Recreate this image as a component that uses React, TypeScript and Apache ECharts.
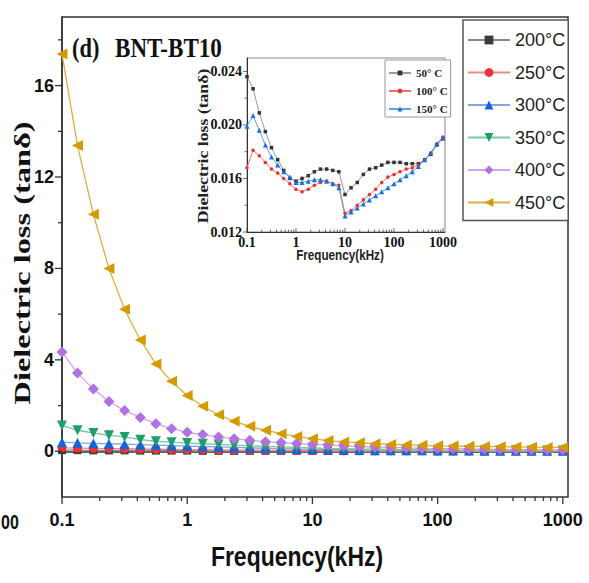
import React, { useEffect, useRef } from "react";
import * as echarts from "echarts";

// Frequencies (kHz), 8 points per decade
const freqKHz = [
  0.1, 0.133, 0.178, 0.237, 0.316, 0.422, 0.562, 0.75,
  1, 1.33, 1.78, 2.37, 3.16, 4.22, 5.62, 7.5,
  10, 13.3, 17.8, 23.7, 31.6, 42.2, 56.2, 75,
  100, 133, 178, 237, 316, 422, 562, 750, 1000,
];

const tempNames = ["200°C", "250°C", "300°C", "350°C", "400°C", "450°C"];

const loss200 = [0.05, 0.05, 0.04, 0.04, 0.04, 0.03, 0.03, 0.03, 0.03, 0.02, 0.02, 0.02, 0.02, 0.02, 0.02, 0.02, 0.02, 0.01, 0.01, 0.01, 0.01, 0.01, 0.01, 0.01, 0.01, 0.01, 0.01, 0.01, 0.01, 0.01, 0.01, 0.01, 0.01];
const loss250 = [0.15, 0.14, 0.13, 0.12, 0.11, 0.1, 0.09, 0.08, 0.07, 0.07, 0.06, 0.05, 0.05, 0.04, 0.04, 0.03, 0.03, 0.03, 0.02, 0.02, 0.02, 0.02, 0.02, 0.02, 0.01, 0.01, 0.01, 0.01, 0.01, 0.01, 0.01, 0.01, 0.01];
const loss300 = [0.4, 0.37, 0.35, 0.33, 0.31, 0.29, 0.27, 0.25, 0.23, 0.21, 0.19, 0.17, 0.15, 0.13, 0.12, 0.1, 0.09, 0.08, 0.07, 0.06, 0.05, 0.05, 0.04, 0.04, 0.03, 0.03, 0.03, 0.02, 0.02, 0.02, 0.02, 0.02, 0.02];
const loss350 = [1.13, 0.92, 0.8, 0.7, 0.63, 0.51, 0.44, 0.4, 0.36, 0.33, 0.3, 0.27, 0.24, 0.21, 0.19, 0.17, 0.15, 0.13, 0.12, 0.1, 0.09, 0.08, 0.07, 0.06, 0.06, 0.05, 0.05, 0.04, 0.04, 0.04, 0.03, 0.03, 0.03];
const loss400 = [4.34, 3.42, 2.73, 2.18, 1.78, 1.48, 1.21, 0.99, 0.83, 0.73, 0.63, 0.55, 0.48, 0.42, 0.38, 0.34, 0.3, 0.27, 0.24, 0.21, 0.19, 0.17, 0.15, 0.13, 0.12, 0.11, 0.1, 0.09, 0.08, 0.07, 0.07, 0.06, 0.06];
const loss450 = [17.38, 13.38, 10.37, 8.0, 6.21, 4.87, 3.82, 3.06, 2.44, 1.97, 1.6, 1.31, 1.09, 0.92, 0.77, 0.65, 0.55, 0.47, 0.41, 0.37, 0.33, 0.3, 0.28, 0.26, 0.24, 0.23, 0.22, 0.21, 0.2, 0.19, 0.18, 0.17, 0.17];

const insetNames = ["50° C", "100° C", "150° C"];
const inset50 = [0.0236, 0.0227, 0.0209, 0.0195, 0.0183, 0.0174, 0.0166, 0.016, 0.0158, 0.016, 0.0162, 0.0165, 0.0167, 0.0167, 0.0166, 0.0165, 0.0148, 0.0153, 0.0157, 0.0163, 0.0167, 0.0168, 0.017, 0.0172, 0.0172, 0.0172, 0.0171, 0.0171, 0.0171, 0.0174, 0.0178, 0.0185, 0.019];
const inset100 = [0.0168, 0.0181, 0.0177, 0.0172, 0.0167, 0.0164, 0.016, 0.0156, 0.0152, 0.015, 0.0152, 0.0155, 0.0157, 0.0158, 0.0156, 0.0155, 0.0134, 0.0136, 0.014, 0.0144, 0.0148, 0.0152, 0.0157, 0.0161, 0.0163, 0.0165, 0.0167, 0.0168, 0.017, 0.0174, 0.0179, 0.0186, 0.0191];
const inset150 = [0.0199, 0.0207, 0.0196, 0.0185, 0.0176, 0.017, 0.0165, 0.0161, 0.0157, 0.0157, 0.0158, 0.0159, 0.0159, 0.0158, 0.0156, 0.0153, 0.0132, 0.0135, 0.0138, 0.0141, 0.0144, 0.0147, 0.015, 0.0153, 0.0156, 0.0159, 0.0162, 0.0165, 0.0169, 0.0174, 0.0179, 0.0186, 0.019];

const decades = [0.1, 1, 10, 100, 1000];
const minorMultipliers = [2, 3, 4, 5, 6, 7, 8, 9];
const insetYTicks = [0.012, 0.016, 0.02, 0.024];
const insetYMinorTicks = [0.014, 0.018, 0.022];

const MAIN_Y_MIN = -2;
const MAIN_Y_MAX = 19;
const INSET_Y_MIN = 0.012;
const INSET_Y_MAX = 0.025;
const X_MIN = 0.1;
const X_MAX = 1100;

const SANS = '"Liberation Sans", Arial, sans-serif';
const SERIF = '"Liberation Serif", "Times New Roman", serif';

const mainStyles = [
  { symbol: "rect", size: 8, rotate: 0, marker: "#3b3b3b", line: "#8a8a8a" },
  { symbol: "circle", size: 9, rotate: 0, marker: "#ee3333", line: "#f28a8a" },
  { symbol: "triangle", size: 10, rotate: 0, marker: "#1565d8", line: "#7aa8e8" },
  { symbol: "triangle", size: 10, rotate: 180, marker: "#1e9e6a", line: "#7cc9a3" },
  { symbol: "diamond", size: 11, rotate: 0, marker: "#b370e0", line: "#cda6ef" },
  { symbol: "triangle", size: 11, rotate: 90, marker: "#d49b00", line: "#dcb040" },
];
const mainData = [loss200, loss250, loss300, loss350, loss400, loss450];

const insetStyles = [
  { symbol: "rect", size: 3.5, marker: "#333333", line: "#9a9a9a" },
  { symbol: "circle", size: 3.5, marker: "#ee3030", line: "#f07070" },
  { symbol: "triangle", size: 5, marker: "#1a6ee0", line: "#5fa0ea" },
];
const insetData = [inset50, inset100, inset150];

function isPow10(v: number) {
  const e = Math.log10(v);
  return Math.abs(e - Math.round(e)) < 1e-6;
}
function fmtLog(v: number) {
  if (!isPow10(v)) return "";
  return String(parseFloat(v.toPrecision(6)));
}

function buildOption() {
  // tick marks: [x, y, length, direction(0 = x tick, 1 = y tick)]
  const mainTicks: number[][] = [];
  decades.forEach((d) => {
    mainTicks.push([d, MAIN_Y_MIN, 7, 0]);
    if (d < 1000) minorMultipliers.forEach((m) => mainTicks.push([d * m, MAIN_Y_MIN, 4, 0]));
  });
  for (let v = 0; v <= 18; v += 2) {
    mainTicks.push([X_MIN, v, v % 4 === 0 ? 7 : 4, 1]);
  }
  const insetTicks: number[][] = [];
  decades.forEach((d) => {
    insetTicks.push([d, INSET_Y_MIN, -4, 0]);
    if (d < 1000) minorMultipliers.forEach((m) => insetTicks.push([d * m, INSET_Y_MIN, -2.5, 0]));
  });
  insetYTicks.forEach((v) => insetTicks.push([X_MIN, v, 4, 1]));
  insetYMinorTicks.forEach((v) => insetTicks.push([X_MIN, v, 2.5, 1]));

  const tickRender = (color: string, width: number) => (params: any, api: any) => {
    const p = api.coord([api.value(0), api.value(1)]);
    const len = api.value(2);
    const dir = api.value(3);
    const shape =
      dir === 0
        ? { x1: p[0], y1: p[1], x2: p[0], y2: p[1] + len }
        : { x1: p[0], y1: p[1], x2: p[0] - len, y2: p[1] };
    return { type: "line", shape, style: { stroke: color, lineWidth: width } };
  };

  const series: any[] = [];
  mainData.forEach((arr, i) => {
    const s = mainStyles[i];
    series.push({
      name: tempNames[i],
      type: "line",
      xAxisIndex: 0,
      yAxisIndex: 0,
      data: freqKHz.map((f, k) => [f, arr[k]]),
      symbol: s.symbol,
      symbolSize: s.size,
      symbolRotate: s.rotate,
      showAllSymbol: true,
      lineStyle: { color: s.line, width: 1.3 },
      itemStyle: { color: s.marker },
      z: 3 + i * 0.1,
    });
  });
  insetData.forEach((arr, i) => {
    const s = insetStyles[i];
    series.push({
      name: insetNames[i],
      type: "line",
      xAxisIndex: 1,
      yAxisIndex: 1,
      data: freqKHz.map((f, k) => [f, arr[k]]),
      symbol: s.symbol,
      symbolSize: s.size,
      showAllSymbol: true,
      lineStyle: { color: s.line, width: 1 },
      itemStyle: { color: s.marker },
      z: 6,
    });
  });
  series.push({
    type: "custom",
    xAxisIndex: 0,
    yAxisIndex: 0,
    data: mainTicks,
    renderItem: tickRender("#333", 1.3),
    clip: false,
    silent: true,
    z: 8,
  });
  series.push({
    type: "custom",
    xAxisIndex: 1,
    yAxisIndex: 1,
    data: insetTicks,
    renderItem: tickRender("#444", 0.8),
    clip: false,
    silent: true,
    z: 8,
  });

  return {
    animation: false,
    backgroundColor: "#fff",
    grid: [
      { left: 62, top: 17, width: 506, height: 480, show: true, borderColor: "#333", borderWidth: 1.5, backgroundColor: "transparent" },
      { left: 247, top: 58, width: 198, height: 174, show: true, borderColor: "#888", borderWidth: 1, backgroundColor: "#fff", z: 5 },
    ],
    xAxis: [
      {
        type: "log",
        logBase: 10,
        gridIndex: 0,
        min: X_MIN,
        max: X_MAX,
        axisLine: { lineStyle: { color: "#333", width: 1.5 } },
        axisTick: { show: false },
        splitLine: { show: false },
        axisLabel: { formatter: fmtLog, fontFamily: SANS, fontWeight: "bold", fontSize: 18, color: "#111", margin: 14 },
      },
      {
        type: "log",
        logBase: 10,
        gridIndex: 1,
        min: X_MIN,
        max: X_MAX,
        z: 6,
        axisLine: { lineStyle: { color: "#333", width: 1 } },
        axisTick: { show: false },
        splitLine: { show: false },
        axisLabel: { formatter: fmtLog, fontFamily: SERIF, fontWeight: "bold", fontSize: 14, color: "#111", margin: 3 },
      },
    ],
    yAxis: [
      {
        type: "value",
        gridIndex: 0,
        min: MAIN_Y_MIN,
        max: MAIN_Y_MAX,
        interval: 2,
        axisLine: { show: true, lineStyle: { color: "#333", width: 1.5 } },
        axisTick: { show: false },
        splitLine: { show: false },
        axisLabel: {
          formatter: (v: number) => (v % 4 === 0 ? String(v) : ""),
          fontFamily: SANS,
          fontWeight: "bold",
          fontSize: 18,
          color: "#111",
          margin: 8,
        },
      },
      {
        type: "value",
        gridIndex: 1,
        min: INSET_Y_MIN,
        max: INSET_Y_MAX,
        interval: 0.004,
        z: 6,
        axisLine: { show: true, lineStyle: { color: "#333", width: 1 } },
        axisTick: { show: false },
        splitLine: { show: false },
        axisLabel: {
          formatter: (v: number) => {
            const m = v * 1000;
            return Math.abs(m - Math.round(m)) < 1e-6 && Math.round(m) % 4 === 0 ? v.toFixed(3) : "";
          },
          fontFamily: SERIF,
          fontWeight: "bold",
          fontSize: 14,
          color: "#111",
          margin: 5,
        },
      },
    ],
    legend: [
      {
        data: tempNames,
        orient: "vertical",
        left: 463,
        top: 20,
        itemWidth: 42,
        itemHeight: 11,
        itemGap: 12.5,
        padding: [10, 3, 8, 4],
        borderColor: "#555",
        borderWidth: 1.5,
        backgroundColor: "#fff",
        textStyle: { fontFamily: SANS, fontSize: 18, color: "#222", lineHeight: 20 },
      },
      {
        data: insetNames,
        orient: "vertical",
        left: 385,
        top: 60,
        itemWidth: 22,
        itemHeight: 6,
        itemGap: 6,
        padding: [7, 3, 2, 3],
        borderColor: "#999",
        borderWidth: 1,
        backgroundColor: "#fff",
        z: 9,
        textStyle: { fontFamily: SERIF, fontWeight: "bold", fontSize: 11, color: "#222", lineHeight: 12 },
      },
    ],
    graphic: [
      {
        type: "text",
        x: 22,
        y: 263,
        rotation: Math.PI / 2,
        scaleX: 1.35,
        style: { text: "Dielectric loss (tanδ)", font: `bold 24px ${SERIF}`, fill: "#111", textAlign: "center", textVerticalAlign: "middle" },
      },
      {
        type: "text",
        x: 297,
        y: 556,
        scaleX: 0.82,
        style: { text: "Frequency(kHz)", font: `bold 28px ${SANS}`, fill: "#111", textAlign: "center", textVerticalAlign: "middle" },
      },
      {
        type: "text",
        x: 72,
        y: 48,
        scaleX: 0.83,
        style: { text: "(d)", font: `bold 27px ${SERIF}`, fill: "#111", textAlign: "left", textVerticalAlign: "middle" },
      },
      {
        type: "text",
        x: 115,
        y: 48,
        scaleX: 0.855,
        style: { text: "BNT-BT10", font: `bold 27px ${SERIF}`, fill: "#111", textAlign: "left", textVerticalAlign: "middle" },
      },
      {
        type: "text",
        x: 203,
        y: 146,
        rotation: Math.PI / 2,
        scaleX: 1.18,
        z: 10,
        style: { text: "Dielectric loss (tanδ)", font: `bold 15px ${SERIF}`, fill: "#222", textAlign: "center", textVerticalAlign: "middle" },
      },
      {
        type: "text",
        x: 340,
        y: 255,
        scaleX: 0.78,
        z: 10,
        style: { text: "Frequency(kHz)", font: `bold 15px ${SANS}`, fill: "#222", textAlign: "center", textVerticalAlign: "middle" },
      },
      {
        type: "text",
        x: 1,
        y: 522,
        scaleX: 0.8,
        style: { text: "00", font: `bold 20px ${SANS}`, fill: "#111", textAlign: "left", textVerticalAlign: "middle" },
      },
    ],
    series,
  };
}

export default function App() {
  const ref = useRef<HTMLDivElement>(null);
  useEffect(() => {
    if (!ref.current) return;
    const chart = echarts.init(ref.current, null, { renderer: "svg" });
    chart.setOption(buildOption() as any);
    return () => chart.dispose();
  }, []);
  return (
    <div
      ref={ref}
      style={{ position: "absolute", left: 0, top: 0, width: 589, height: 583, background: "#fff" }}
    />
  );
}
